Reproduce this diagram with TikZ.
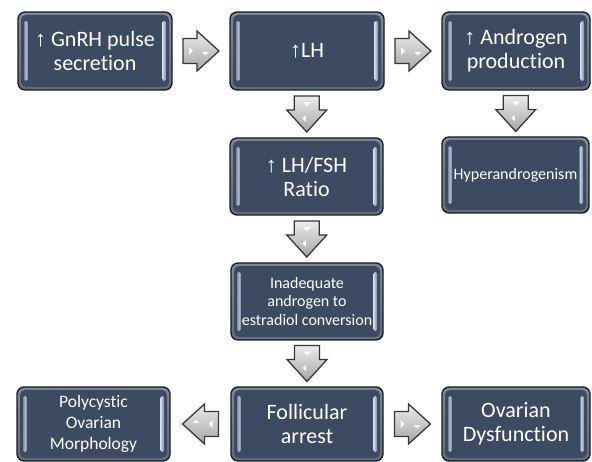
\documentclass[tikz,border=0pt]{standalone}
\usepackage{fontspec}
\setmainfont{Carlito}[Ligatures=NoCommon]
\newfontfamily\arrowfont{Liberation Sans}
\newcommand\uparr{{\arrowfont ↑}}
\usetikzlibrary{calc}
\definecolor{corec}{RGB}{60,75,98}
\definecolor{bevtop}{RGB}{125,138,158}
\definecolor{bevbot}{RGB}{95,108,128}
\definecolor{hlc}{RGB}{205,218,232}
\definecolor{arrline}{RGB}{55,55,55}
\tikzset{
  pbox/.style 2 args={draw=black!90, line width=1.3pt, rounded corners=7pt,
    top color=bevtop, bottom color=bevbot, text=white, align=center,
    inner sep=0pt, minimum width=#1, minimum height=#2,
    path picture={
      \fill[corec, rounded corners=5pt]
        ([xshift=3pt,yshift=3pt]path picture bounding box.south west) rectangle
        ([xshift=-3pt,yshift=-3pt]path picture bounding box.north east);
      \shade[left color=hlc!45!corec, right color=hlc, rounded corners=1.5pt]
        ([xshift=6pt,yshift=9pt]path picture bounding box.south west) rectangle
        ([xshift=9.5pt,yshift=-9pt]path picture bounding box.north west);
      \shade[left color=hlc, right color=hlc!45!corec, rounded corners=1.5pt]
        ([xshift=-9.5pt,yshift=9pt]path picture bounding box.south east) rectangle
        ([xshift=-6pt,yshift=-9pt]path picture bounding box.north east);
    }},
  bigtxt/.style={font=\fontsize{22}{24}\selectfont},
  midtxt/.style={font=\fontsize{17.5}{21}\selectfont},
  smalltxt/.style={font=\fontsize{16}{18.5}\selectfont},
  arrowsty/.style={draw=arrline, line width=1.3pt, line join=miter,
    top color=black!8, bottom color=black!35},
  glint/.style={fill=white, opacity=.9},
}
\newcommand\blockarrow[3]{%
  \begin{scope}[shift={($(#1)!0.5!(#2)$)}, rotate=#3]
    \path[arrowsty] (-18,-12.5) -- (-4,-12.5) -- (-4,-20) -- (18,0) -- (-4,20)
      -- (-4,12.5) -- (-18,12.5) -- cycle;
    \fill[glint] (-12,-4) -- (-8,0) -- (-12,4) -- cycle;
    \fill[glint] (1,1) -- (8,1) -- (4.5,4.5) -- cycle;
  \end{scope}}
\begin{document}
\begin{tikzpicture}[x=1pt,y=-1pt]
\useasboundingbox (0,0) rectangle (592,462);
\node[pbox={154pt}{78pt}, bigtxt] (A) at (95,51) {\uparr\ GnRH pulse\\secretion};
\node[pbox={154pt}{78pt}, bigtxt] (B) at (307,51) {\uparr LH};
\node[pbox={148pt}{78pt}, bigtxt] (C) at (516,51) {\uparr\ Androgen\\production};
\node[pbox={153pt}{77pt}, bigtxt] (D) at (306.5,176.5) {\uparr\ LH/FSH\\Ratio};
\node[pbox={147pt}{76pt}, smalltxt] (E) at (515.5,175) {Hyperandrogenism};
\node[pbox={152pt}{77pt}, smalltxt] (F) at (307,301.5) {Inadequate\\androgen to\\estradiol conversion};
\node[pbox={152pt}{74pt}, bigtxt] (G) at (307,424) {Follicular\\arrest};
\node[pbox={153pt}{74pt}, midtxt] (H) at (93.5,424) {Polycystic\\Ovarian\\Morphology};
\node[pbox={148pt}{74pt}, bigtxt] (I) at (516,424) {Ovarian\\Dysfunction};
\blockarrow{A.east}{B.west}{0}
\blockarrow{B.east}{C.west}{0}
\blockarrow{B.south}{D.north}{-90}
\blockarrow{C.south}{E.north}{-90}
\blockarrow{D.south}{F.north}{-90}
\blockarrow{F.south}{G.north}{-90}
\blockarrow{G.west}{H.east}{180}
\blockarrow{G.east}{I.west}{0}
\end{tikzpicture}
\end{document}
